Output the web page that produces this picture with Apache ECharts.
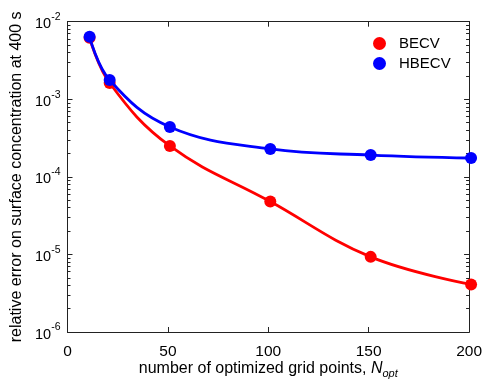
<!DOCTYPE html>
<html>
<head>
<meta charset="utf-8">
<script src="https://cdn.jsdelivr.net/npm/echarts@6/dist/echarts.min.js"></script>
<style>html,body{margin:0;padding:0;background:#fff}#c{width:485px;height:387px}</style>
</head>
<body>
<div id="c"></div>
<script>
const nPoints = [11, 21, 51, 101, 151, 201];
const becv = [6.2e-3, 1.62e-3, 2.5e-4, 4.8e-5, 9.3e-6, 4.1e-6];
const hbecv = [6.4e-3, 1.77e-3, 4.4e-4, 2.29e-4, 1.91e-4, 1.75e-4];
const xTicks = [0, 50, 100, 150, 200];
const yMajor = [1e-6, 1e-5, 1e-4, 1e-3, 1e-2];
const yMinor = [];
[1e-6, 1e-5, 1e-4, 1e-3].forEach(d => { for (let k = 2; k <= 9; k++) yMinor.push(+(d * k).toPrecision(3)); });

const font = '"Liberation Sans", Arial, sans-serif';
const axisColor = '#222';
const chart = echarts.init(document.getElementById('c'));

function expLabel(v) {
  const e = Math.round(Math.log10(v));
  return '{b|10}{s|' + e + '}';
}
const yLabelRich = {
  b: { fontSize: 14.5, fontFamily: font, color: '#000', lineHeight: 20, verticalAlign: 'bottom' },
  s: { fontSize: 10.5, fontFamily: font, color: '#000', lineHeight: 20, verticalAlign: 'top' }
};

function yAxisDef(pos, ticks, len, showLabel, showName) {
  return {
    type: 'log', logBase: 10, min: 1e-6, max: 1e-2, position: pos,
    axisLine: { show: true, onZero: false, lineStyle: { color: axisColor, width: 1 } },
    axisTick: { show: true, inside: true, length: len, customValues: ticks, lineStyle: { color: axisColor } },
    axisLabel: { show: showLabel, customValues: yMajor, formatter: expLabel, rich: yLabelRich, margin: 7 },
    splitLine: { show: false },
    name: showName ? 'relative error on surface concentration at 400 s' : '',
    nameLocation: 'middle', nameGap: 36, nameRotate: 90,
    nameTextStyle: { fontSize: 16, fontFamily: font, color: '#000' }
  };
}

chart.setOption({
  animation: false,
  backgroundColor: '#fff',
  grid: { left: 67.5, right: 10.5, top: 21.7, bottom: 55, containLabel: false },
  legend: {
    top: 31, left: 368, orient: 'vertical', itemGap: 5,
    icon: 'circle', itemWidth: 13, itemHeight: 13,
    textStyle: { fontSize: 15, fontFamily: font, color: '#000', padding: [0, 0, 0, 8] },
    data: ['BECV', 'HBECV']
  },
  xAxis: [
    {
      type: 'value', min: 0, max: 200, interval: 50, position: 'bottom',
      axisLine: { onZero: false, lineStyle: { color: axisColor } },
      axisTick: { inside: true, length: 5, lineStyle: { color: axisColor } },
      axisLabel: { fontSize: 15.5, fontFamily: font, color: '#000', margin: 12, customValues: xTicks },
      splitLine: { show: false },
      name: '{t|number of optimized grid points, }{i|N}{sub|opt}',
      nameLocation: 'middle', nameGap: 27, nameMoveOverlap: false,
      nameTextStyle: {
        rich: {
          t: { fontSize: 16, fontFamily: font, color: '#000', lineHeight: 20, verticalAlign: 'middle' },
          i: { fontSize: 16, fontFamily: font, color: '#000', fontStyle: 'italic', lineHeight: 20, verticalAlign: 'middle' },
          sub: { fontSize: 11, fontFamily: font, color: '#000', fontStyle: 'italic', lineHeight: 20, verticalAlign: 'bottom', padding: [6, 0, 0, 0] }
        }
      }
    },
    {
      type: 'value', min: 0, max: 200, interval: 50, position: 'top',
      axisLine: { onZero: false, lineStyle: { color: axisColor } },
      axisTick: { inside: true, length: 5, lineStyle: { color: axisColor } },
      axisLabel: { show: false }, splitLine: { show: false }
    }
  ],
  yAxis: [
    yAxisDef('left', yMajor, 5, true, true),
    yAxisDef('left', yMinor, 3, false, false),
    yAxisDef('right', yMajor, 5, false, false),
    yAxisDef('right', yMinor, 3, false, false)
  ],
  series: [
    {
      name: 'BECV', type: 'line', smooth: 0.4, clip: false,
      data: nPoints.map((x, i) => [x, becv[i]]),
      color: '#ff0000', lineStyle: { width: 2.8, color: '#ff0000' },
      symbol: 'circle', symbolSize: 12, itemStyle: { color: '#ff0000' }, z: 2
    },
    {
      name: 'HBECV', type: 'line', smooth: 0.4, clip: false,
      data: nPoints.map((x, i) => [x, hbecv[i]]),
      color: '#0000ff', lineStyle: { width: 2.8, color: '#0000ff' },
      symbol: 'circle', symbolSize: 12, itemStyle: { color: '#0000ff' }, z: 3
    }
  ]
});
</script>
</body>
</html>
